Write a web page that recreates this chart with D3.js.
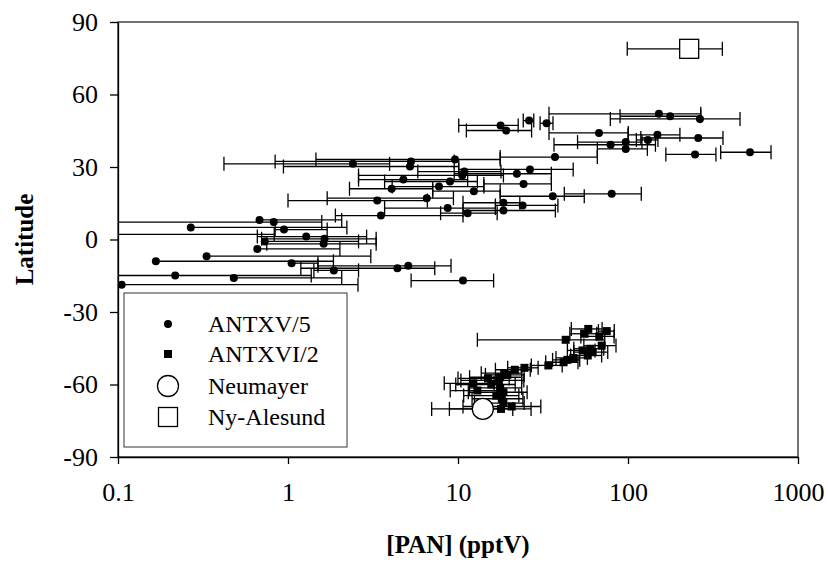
<!DOCTYPE html>
<html>
<head>
<meta charset="utf-8">
<script src="https://cdn.jsdelivr.net/npm/d3@7"></script>
<style>
  body { margin: 0; background: #fff; }
  svg text { font-family: "Liberation Serif", "Times New Roman", serif; fill: #000; }
</style>
</head>
<body>
<svg id="chart" width="828" height="563"></svg>
<script>
// ---- data ----
// ANTXV/5 : [PAN] pptV, latitude, lower and upper end of the error bar
var antxv5_pan = [152, 177, 265, 26.2, 17.8, 19.2, 33.2, 67.5, 149, 131, 259, 79, 97, 97, 248, 522, 37.2,
  2.41, 5.29, 5.22, 9.6, 10.9, 10.6, 26.5, 22.2, 4.77, 8.97, 24.3, 4.07, 7.73, 12.4, 36.1, 3.35, 6.55,
  8.7, 18.5, 18.5, 24.0, 11.4, 3.52, 80.2,
  0.68, 0.824, 0.268, 0.947, 0.06, 1.28, 1.64, 1.62, 0.73, 0.66, 0.332, 0.167, 1.05, 1.86, 0.217,
  0.48, 0.105, 4.4, 5.1, 10.7];
var antxv5_lat = [52.0, 51.0, 49.9, 49.2, 47.2, 45.1, 48.1, 44.1, 43.3, 41.2, 42.0, 39.2, 40.3, 37.5, 35.2, 36.1, 34.1,
  31.3, 32.3, 30.2, 33.1, 28.1, 26.5, 29.0, 27.2, 24.8, 24.0, 23.0, 21.0, 21.9, 20.0, 17.9, 16.1, 17.1,
  13.0, 15.2, 12.0, 14.1, 10.9, 9.9, 18.9,
  8.1, 7.2, 5.0, 4.1, 2.1, 1.2, 0.3, -1.8, -0.8, -3.9, -6.9, -9.0, -9.8, -12.8, -14.9,
  -15.9, -18.7, -11.9, -10.9, -17.0];
var antxv5_lo = [34.3, 89.8, 78.7, 24.2, 10.1, 11.2, 30.4, 34.3, 100, 112, 119, 36.7, 50.5, 66, 167, 351, 17.7,
  0.42, 0.84, 0.94, 1.46, 5.8, 2.6, 10.1, 9.5, 2.6, 3.7, 14.2, 2.3, 4.1, 7.1, 17.7, 1.0, 1.7,
  3.7, 10.7, 10.7, 16.6, 7.9, 1.9, 42.2,
  0.68, 0.1, 0.268, 0.84, 0.1, 0.66, 0.7, 0.75, 0.73, 0.66, 0.332, 0.167, 1.05, 1.42, 0.1,
  0.48, 0.105, 1.19, 1.5, 5.3];
var antxv5_hi = [268, 268, 456, 27.9, 22.6, 27.1, 36.2, 100.4, 202, 150, 362, 145, 120.8, 130, 329, 694, 66,
  3.96, 9.5, 10.1, 17.7, 17.9, 18.5, 47.6, 35.4, 11.4, 13.0, 35.4, 7.1, 14.2, 17.7, 55.3, 6.6, 9.4,
  16.6, 23.1, 37.4, 38.7, 17.0, 10.7, 119.7,
  2.07, 1.58, 2.22, 1.7, 0.83, 2.9, 3.3, 3.3, 2.6, 2.02, 3.07, 1.85, 1.5, 2.6, 1.37,
  2.07, 2.58, 7.3, 9.1, 16.2];

// ANTXVI/2
var antxvi2_pan = [58.4, 75, 55.5, 67.8, 43, 70, 60, 54, 62, 58, 47.7, 44, 41.8, 34, 24.6, 21.6, 18.7, 19.5,
  17.7, 15, 17.4, 15.7, 12.3, 17.7, 13, 18.5, 16.8, 18.1, 18.5, 20.7, 17.9];
var antxvi2_lat = [-37.0, -37.9, -39.0, -40.1, -41.5, -43.9, -45.2, -45.9, -46.6, -48.0, -49.0, -49.8, -50.8, -52.1,
  -53.1, -53.9, -55.3, -56.0, -57.0, -57.5, -58.3, -60.0, -59.5, -61.4, -62.5, -63.2, -64.6, -65.9, -67.7, -69.1, -70.1];
var antxvi2_err = [12, 8, 10, 15, 30, 15, 12, 10, 14, 12, 10, 8, 9, 7, 5, 5, 5, 5,
  6, 5, 7, 6, 4, 6, 4, 7, 6, 6, 6, 10, 9];

// stations
var neumayer_pan = [14.0], neumayer_lat = [-70.1], neumayer_err = [7];
var nyalesund_pan = [229], nyalesund_lat = [78.9], nyalesund_err = [130];

var x_ticks = [0.1, 1, 10, 100, 1000];
var y_ticks = [-90, -60, -30, 0, 30, 60, 90];
var legend_names = ["ANTXV/5", "ANTXVI/2", "Neumayer", "Ny-Alesund"];

// ---- layout ----  (don't call it "top", window.top is taken)
var plotL = 118, plotR = 798, plotT = 22, plotB = 457;
var cap = 7; // half height of the error bar caps

var svg = d3.select("#chart");

var x = d3.scaleLog().domain([0.1, 1000]).range([plotL, plotR]);
var y = d3.scaleLinear().domain([-90, 90]).range([plotB, plotT]);

// build point lists from the arrays
var pts5 = antxv5_pan.map(function (d, i) {
  return {pan: d, lat: antxv5_lat[i], lo: antxv5_lo[i], hi: antxv5_hi[i]};
});
var pts16 = antxvi2_pan.map(function (d, i) {
  return {pan: d, lat: antxvi2_lat[i], lo: d - antxvi2_err[i], hi: d + antxvi2_err[i]};
});
var ptsNeu = neumayer_pan.map(function (d, i) {
  return {pan: d, lat: neumayer_lat[i], lo: d - neumayer_err[i], hi: d + neumayer_err[i]};
});
var ptsNy = nyalesund_pan.map(function (d, i) {
  return {pan: d, lat: nyalesund_lat[i], lo: d - nyalesund_err[i], hi: d + nyalesund_err[i]};
});

svg.append("defs").append("clipPath").attr("id", "plotclip")
  .append("rect")
  .attr("x", plotL).attr("y", plotT)
  .attr("width", plotR - plotL).attr("height", plotB - plotT);

// frame of the plot area
svg.append("rect")
  .attr("x", plotL).attr("y", plotT)
  .attr("width", plotR - plotL).attr("height", plotB - plotT)
  .attr("fill", "none")
  .attr("stroke", "#444")
  .attr("stroke-width", 1.5);

var plot = svg.append("g").attr("clip-path", "url(#plotclip)");

function errorBars(g, data) {
  data.forEach(function (d) {
    var lo = Math.max(d.lo, 0.1);
    var yy = y(d.lat);
    g.append("line")
      .attr("x1", x(lo)).attr("x2", x(d.hi))
      .attr("y1", yy).attr("y2", yy)
      .attr("stroke", "#000").attr("stroke-width", 1.3);
    g.append("line")
      .attr("x1", x(d.hi)).attr("x2", x(d.hi))
      .attr("y1", yy - cap).attr("y2", yy + cap)
      .attr("stroke", "#000").attr("stroke-width", 1.3);
    if (d.lo > 0.1 && d.lo < d.pan) {
      g.append("line")
        .attr("x1", x(d.lo)).attr("x2", x(d.lo))
        .attr("y1", yy - cap).attr("y2", yy + cap)
        .attr("stroke", "#000").attr("stroke-width", 1.3);
    }
  });
}

var bars = plot.append("g");
errorBars(bars, pts5);
errorBars(bars, pts16);
errorBars(bars, ptsNeu);
errorBars(bars, ptsNy);

// markers
plot.append("g").selectAll("circle")
  .data(pts5).enter().append("circle")
  .attr("cx", function (d) { return x(d.pan); })
  .attr("cy", function (d) { return y(d.lat); })
  .attr("r", 4)
  .attr("fill", "#000");

plot.append("g").selectAll("rect")
  .data(pts16).enter().append("rect")
  .attr("x", function (d) { return x(d.pan) - 4; })
  .attr("y", function (d) { return y(d.lat) - 4; })
  .attr("width", 8).attr("height", 8)
  .attr("fill", "#000");

plot.append("g").selectAll("circle")
  .data(ptsNeu).enter().append("circle")
  .attr("cx", function (d) { return x(d.pan); })
  .attr("cy", function (d) { return y(d.lat); })
  .attr("r", 10.5)
  .attr("fill", "#fff").attr("stroke", "#000").attr("stroke-width", 1.3);

plot.append("g").selectAll("rect")
  .data(ptsNy).enter().append("rect")
  .attr("x", function (d) { return x(d.pan) - 9.5; })
  .attr("y", function (d) { return y(d.lat) - 9.5; })
  .attr("width", 19).attr("height", 19)
  .attr("fill", "#fff").attr("stroke", "#000").attr("stroke-width", 1.3);

// axes (plain hyphen for negatives, like the original)
var xAxis = d3.axisBottom(x)
  .tickValues(x_ticks)
  .tickFormat(function (d) { return String(d); })
  .tickSizeInner(7).tickSizeOuter(0)
  .tickPadding(19);
var yAxis = d3.axisLeft(y)
  .tickValues(y_ticks)
  .tickFormat(function (d) { return String(d); })
  .tickSizeInner(8).tickSizeOuter(0)
  .tickPadding(12);

var gx = svg.append("g").attr("transform", "translate(0," + plotB + ")").call(xAxis);
var gy = svg.append("g").attr("transform", "translate(" + plotL + ",0)").call(yAxis);

[gx, gy].forEach(function (g) {
  g.select(".domain").attr("stroke", "#000").attr("stroke-width", 1.3);
  g.selectAll(".tick line").attr("stroke", "#000").attr("stroke-width", 1.3);
  g.selectAll(".tick text")
    .attr("font-family", "'Liberation Serif', 'Times New Roman', serif")
    .attr("font-size", 26)
    .attr("fill", "#000");
});

// axis titles
svg.append("text")
  .attr("x", (plotL + plotR) / 2).attr("y", 553)
  .attr("text-anchor", "middle")
  .attr("font-size", 25).attr("font-weight", "bold")
  .text("[PAN] (pptV)");

svg.append("text")
  .attr("transform", "translate(33," + (plotT + plotB) / 2 + ") rotate(-90)")
  .attr("text-anchor", "middle")
  .attr("font-size", 25).attr("font-weight", "bold")
  .text("Latitude");

// legend
var lg = svg.append("g");
lg.append("rect")
  .attr("x", 124).attr("y", 293)
  .attr("width", 223).attr("height", 154)
  .attr("fill", "#fff").attr("stroke", "#555").attr("stroke-width", 1.2);

var rowY = [324, 354, 386, 417];
var symX = 168;
lg.append("circle").attr("cx", symX).attr("cy", rowY[0]).attr("r", 4).attr("fill", "#000");
lg.append("rect").attr("x", symX - 4).attr("y", rowY[1] - 4).attr("width", 8).attr("height", 8).attr("fill", "#000");
lg.append("circle").attr("cx", symX).attr("cy", rowY[2]).attr("r", 10.5)
  .attr("fill", "#fff").attr("stroke", "#000").attr("stroke-width", 1.3);
lg.append("rect").attr("x", symX - 9.5).attr("y", rowY[3] - 9.5).attr("width", 19).attr("height", 19)
  .attr("fill", "#fff").attr("stroke", "#000").attr("stroke-width", 1.3);

lg.selectAll("text.lab")
  .data(legend_names).enter().append("text")
  .attr("class", "lab")
  .attr("x", 208)
  .attr("y", function (d, i) { return rowY[i] + 8; })
  .attr("font-size", 24)
  .text(function (d) { return d; });
</script>
</body>
</html>
